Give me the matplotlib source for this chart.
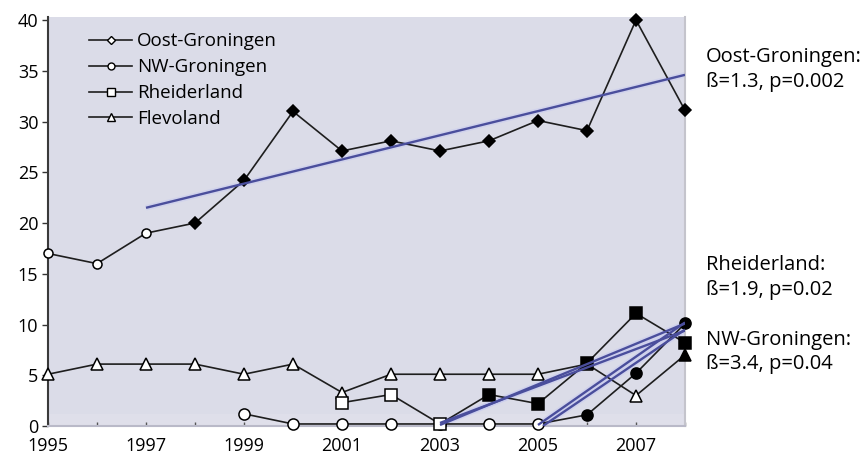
import numpy as np
import matplotlib
matplotlib.use("Agg")
import matplotlib.pyplot as plt
from matplotlib.lines import Line2D

plt.rcParams['font.family'] = ['Open Sans', 'DejaVu Sans']

# data
years_oost = [1995, 1996, 1997, 1998, 1999, 2000, 2001, 2002, 2003, 2004, 2005, 2006, 2007, 2008]
oost = [17, 16, 19, 20, 24.2, 31, 27.1, 28.1, 27.1, 28.1, 30.1, 29.1, 40, 31.1]
oost_filled = [False, False, False, True, True, True, True, True, True, True, True, True, True, True]

years_nw = [1999, 2000, 2001, 2002, 2003, 2004, 2005, 2006, 2007, 2008]
nw = [1.2, 0.2, 0.2, 0.2, 0.2, 0.2, 0.2, 1.1, 5.2, 10.1]
nw_filled = [False, False, False, False, False, False, False, True, True, True]

years_rh = [2001, 2002, 2003, 2004, 2005, 2006, 2007, 2008]
rh = [2.3, 3.1, 0.2, 3.1, 2.2, 6.2, 11.1, 8.2]
rh_filled = [False, False, False, True, True, True, True, True]

years_fl = [1995, 1996, 1997, 1998, 1999, 2000, 2001, 2002, 2003, 2004, 2005, 2006, 2007, 2008]
fl = [5.1, 6.1, 6.1, 6.1, 5.1, 6.1, 3.3, 5.1, 5.1, 5.1, 5.1, 6.1, 3.0, 7.0]
fl_filled = [False] * 13 + [True]

# trend lines (start, end)
trend_oost = ([1997, 2008], [21.5, 34.6])
trend_rh = [([2003, 2008], [0.1, 10.1]), ([2003, 2008], [0.3, 9.4])]
trend_nw = [([2005, 2008], [0.1, 10.2]), ([2005.1, 2008], [0.0, 9.5])]

series_notes = [("Oost-Groningen:\nß=1.3, p=0.002", 47),
                ("Rheiderland:\nß=1.9, p=0.02", 255),
                ("NW-Groningen:\nß=3.4, p=0.04", 330)]

W, H = 868, 455
fig = plt.figure(figsize=(W / 100, H / 100), dpi=100)
ax = fig.add_axes([48 / W, 29 / H, 637 / W, 409 / H])
ax.set_facecolor('#dbdce8')
ax.axhspan(0, 1.2, color='#dfdfea', zorder=0)

line_col = '#1e1e1e'
trend_col = '#4a4e9c'


def draw(xs, ys, filled, marker, ms, open_marker=None, z=3):
    ax.plot(xs, ys, color=line_col, lw=1.2, zorder=z, clip_on=False)
    for x, y, f in zip(xs, ys, filled):
        m = marker if (f or open_marker is None) else open_marker
        ax.plot(x, y, marker=m, ms=ms, mfc='black' if f else 'white',
                mec='black', mew=1.1, zorder=z + 1, clip_on=False, ls='none')


def trend(xs, ys):
    ax.plot(xs, ys, color='#c6c9f0', lw=4, alpha=0.5, zorder=2, solid_capstyle='butt')
    ax.plot(xs, ys, color=trend_col, lw=1.7, zorder=6, solid_capstyle='butt')


trend(*trend_oost)
for t in trend_rh:
    trend(*t)
for t in trend_nw:
    trend(*t)

draw(years_fl, fl, fl_filled, '^', 9)
draw(years_nw, nw, nw_filled, 'o', 8)
draw(years_rh, rh, rh_filled, 's', 9)
draw(years_oost, oost, oost_filled, 'D', 6.5, open_marker='o')

ax.set_xlim(1995, 2008)
ax.set_ylim(0, 40.3)

ax.set_yticks(np.arange(0, 41, 5))
ax.set_xticks(np.arange(1995, 2008, 2))
ax.set_xticks(np.arange(1995, 2009, 1), minor=True)
ax.tick_params(axis='y', direction='out', length=4, width=1, color='#333333',
               labelsize=13, pad=3)
ax.tick_params(axis='x', which='major', direction='in', length=3, width=1, color='#555555',
               labelsize=13, pad=8)
ax.tick_params(axis='x', which='minor', direction='in', length=3, width=1, color='#555555')

ax.spines['top'].set_visible(False)
ax.spines['left'].set_color('#3a3a3a')
ax.spines['left'].set_linewidth(1.5)
ax.spines['right'].set_color('#c4c4cc')
ax.spines['right'].set_linewidth(1.5)
ax.spines['bottom'].set_color('#b9b9c8')
ax.spines['bottom'].set_linewidth(1.5)

handles = [
    Line2D([], [], color=line_col, lw=1.2, marker='D', ms=4, mfc='white', mec='black'),
    Line2D([], [], color=line_col, lw=1.2, marker='o', ms=5, mfc='white', mec='black'),
    Line2D([], [], color=line_col, lw=1.2, marker='s', ms=6, mfc='white', mec='black'),
    Line2D([], [], color=line_col, lw=1.2, marker='^', ms=6, mfc='white', mec='black'),
]
labels = ['Oost-Groningen', 'NW-Groningen', 'Rheiderland', 'Flevoland']
ax.legend(handles, labels, loc='upper left', bbox_to_anchor=(0.047, 0.99),
          frameon=False, fontsize=13.5, handlelength=2.3, handletextpad=0.25,
          labelspacing=0.42, borderaxespad=0.2)

for txt, top in series_notes:
    fig.text(706 / W, 1 - top / H, txt, fontsize=14.5, va='top', ha='left',
             linespacing=1.3)

fig.savefig('out.png', dpi=100, facecolor='white')
